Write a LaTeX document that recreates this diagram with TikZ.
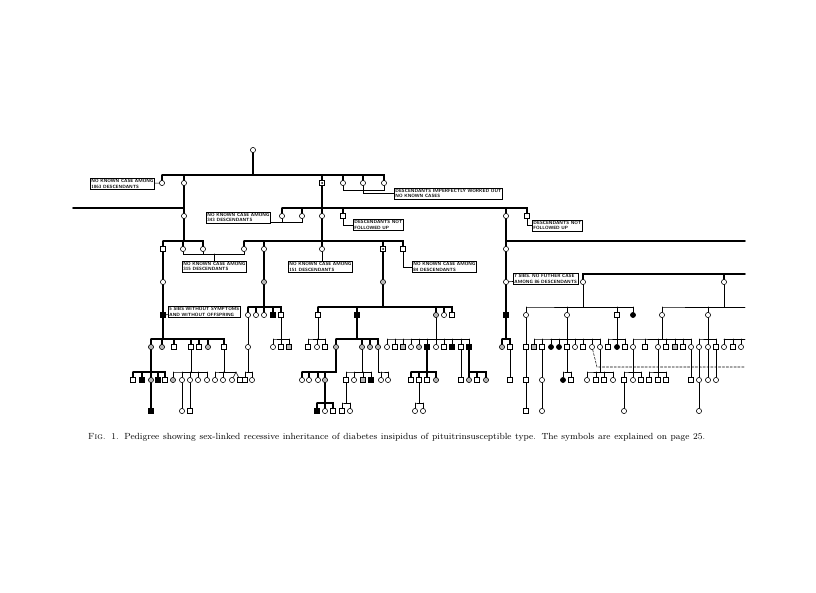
\documentclass[tikz,border=0pt]{standalone}
\usepackage{tikz}
\begin{document}
\begin{tikzpicture}[x=0.3mm,y=-0.3mm,line cap=round,
  fem/.style={circle,draw,line width=.5pt,inner sep=0pt,minimum size=1.55mm},
  mal/.style={rectangle,draw,line width=.5pt,inner sep=0pt,minimum size=1.4mm},
  femc/.style={fem,fill=gray!55},
  malc/.style={mal,fill=gray!55},
  fema/.style={fem,fill=black},
  mala/.style={mal,fill=black},
  maldot/.style={mal,path picture={\fill (path picture bounding box.center) circle (.3mm);}},
  thn/.style={line width=.5pt},
  thk/.style={line width=1.3pt},
  lbox/.style={draw,line width=.45pt,inner sep=1pt,align=left,anchor=west,
    font=\fontsize{3.9}{4.5}\selectfont\sffamily\bfseries}]
\path[use as bounding box,fill=white] (0,0) rectangle (816,593);

\node[fem] (r0-253) at (253,150) {};
\foreach \x/\sy in {162/fem,184/fem,322/maldot,343/fem,363/fem,384/fem}
  \node[\sy] (r1-\x) at (\x,183) {};
\foreach \x/\sy in {184/fem,282/fem,302/fem,322/fem,343/mal,506/fem,527/mal}
  \node[\sy] (r2-\x) at (\x,216) {};
\foreach \x/\sy in {163/mal,183/fem,203/fem,244/fem,264/fem,322/fem,383/maldot,403/mal,506/fem}
  \node[\sy] (r3-\x) at (\x,249) {};
\foreach \x/\sy in {163/fem,264/femc,383/femc,506/fem,583/fem,724/fem}
  \node[\sy] (r4-\x) at (\x,282) {};
\foreach \x/\sy in {163/mala,248/fem,256/fem,264/fem,273/mala,281/mal,318/mal,357/mala,436/femc,
    444/fem,452/mal,506/mala,526/fem,567/fem,617/mal,633/fema,662/fem,708/fem}
  \node[\sy] (r5-\x) at (\x,315) {};
\foreach \x/\sy in {151/femc,162/femc,174/mal,191/mal,199/mal,208/femc,224/mal,248/fem,273/fem,
    281/mal,289/malc,308/mal,317/fem,325/mal,336/femc,362/femc,370/femc,378/femc,387/fem,395/mal,
    403/malc,411/fem,419/femc,427/mala,436/fem,444/mal,452/mala,461/mal,469/mala,502/femc,510/mal,
    526/mal,534/malc,542/mal,551/fema,559/fema,567/mal,575/fem,583/mal,592/fem,600/fem,608/mal,
    617/fema,625/mal,633/fem,645/mal,658/fem,666/mal,675/malc,683/mal,691/fem,699/fem,708/fem,
    716/mal,724/fem,733/mal,741/fem}
  \node[\sy] (r6-\x) at (\x,347) {};
\foreach \x/\sy in {133/mal,142/mala,151/femc,158/mala,165/mal,173/femc,182/fem,190/fem,198/fem,
    207/fem,215/fem,223/fem,232/fem,240/mal,245/mal,252/fem,302/fem,309/fem,318/fem,325/femc,
    346/mal,354/fem,363/malc,371/mala,381/fem,388/fem,411/mal,419/mal,427/mal,436/femc,461/mal,
    469/femc,477/mal,486/femc,510/mal,526/mal,542/fem,563/fema,571/mal,587/fem,596/mal,604/mal,
    613/fem,624/mal,633/fem,641/mal,649/mal,658/mal,666/mal,691/mal,699/fem,708/fem,716/fem}
  \node[\sy] (r7-\x) at (\x,380) {};
\foreach \x/\sy in {151/mala,182/fem,190/mal,317/mala,325/fem,333/mal,342/mal,350/fem,415/fem,
    423/fem,526/mal,542/fem,624/fem,699/fem}
  \node[\sy] (r8-\x) at (\x,411) {};

\foreach \pa/\rw/\lo/\hi/\st/\ks in {
    r0-253/1/162/384/thk/{162,184,322,343,363,384},
    r2-184/3/163/203/thk/{163,183,203},
    r1-322/2/282/527/thk/{282,302,322,343,506,527},
    r2-322/3/244/403/thk/{244,264,322,383,403},
    r5-163/6/151/224/thk/{151,162,174,191,199,208,224},
    r4-264/5/248/281/thk/{248,256,264,273,281},
    r6-248/7/245/252/thn/{245,252},
    r5-281/6/273/289/thn/{273,281,289},
    r4-383/5/318/452/thk/{318,357,436,444,452},
    r5-318/6/308/325/thn/{308,317,325},
    r5-357/6/336/378/thk/{336,362,370,378},
    r5-436/6/387/469/thn/{387,395,403,411,419,427,436,444,452,461,469},
    r6-336/7/302/325/thk/{302,309,318,325},
    r7-325/8/317/333/thk/{317,325,333},
    r6-362/7/346/371/thn/{346,354,363,371},
    r7-346/8/342/350/thn/{342,350},
    r6-378/7/381/388/thn/{381,388},
    r6-427/7/411/436/thk/{411,419,427,436},
    r7-419/8/415/423/thn/{415,423},
    r6-469/7/469/486/thk/{469,477,486},
    r6-151/7/133/165/thk/{133,142,151,158,165},
    r6-191/7/173/207/thn/{173,182,190,198,207},
    r6-224/7/215/223/thn/{215,223},
    r5-506/6/502/510/thk/{502,510},
    r4-583/5/526/633/thn/{526,567,617,633},
    r4-724/5/662/708/thn/{662,708},
    r5-567/6/534/600/thn/{534,542,551,559,567,575,583,592,600},
    r5-617/6/608/625/thn/{608,617,625},
    r5-662/6/633/691/thn/{633,645,658,666,675,683,691},
    r5-708/6/699/716/thn/{699,708,716},
    r6-567/7/563/571/thn/{563,571},
    r6-600/7/587/613/thn/{587,596,604,613},
    r6-633/7/624/641/thn/{624,633,641},
    r6-658/7/649/666/thn/{649,658,666}}{
  \path (r\rw-\lo) ++(0,-8) coordinate (bar);
  \draw[\st] (\pa) |- (bar) -| (r\rw-\hi);
  \foreach \kk in \ks \draw[\st] (r\rw-\kk) -- (r\rw-\kk |- bar);
}

\foreach \u/\v in {r1-184/r2-184,r2-506/r3-506,r3-506/r4-506,r4-506/r5-506,r3-163/r4-163,
    r4-163/r5-163,r3-264/r4-264,r3-383/r4-383,r7-151/r8-151}
  \draw[thk] (\u) -- (\v);
\foreach \u/\v in {r5-248/r6-248,r7-182/r8-182,r7-190/r8-190,r6-461/r7-461,r6-510/r7-510,
    r5-526/r6-526,r6-526/r7-526,r7-526/r8-526,r6-542/r7-542,r7-542/r8-542,r7-624/r8-624,
    r6-691/r7-691,r6-699/r7-699,r6-708/r7-708,r6-716/r7-716,r7-699/r8-699}
  \draw[thn] (\u) -- (\v);

\coordinate (eA) at (73,208);
\coordinate (eB) at (745,241);
\coordinate (eC) at (745,274);
\coordinate (eD) at (745,307);
\coordinate (eE) at (745,339);
\coordinate (eF) at (745,367);
\coordinate (dd) at (597,367);
\coordinate (tw) at (236,372);
\draw[thk] (eA) -- (r1-184 |- eA);
\draw[thk] (r3-506 |- eB) -- (eB);
\draw[thk] (r4-583) |- (eC);
\draw[thk] (r4-724) -- (r4-724 |- eC);
\draw[thn] (r5-708 |- eD) -- (eD);
\foreach \kk in {724,733,741} \draw[thn] (r6-\kk) -- (r6-\kk |- eE);
\draw[thn] (r6-724 |- eE) -- (eE);
\draw[thn,dash pattern=on 2pt off 1.3pt] (r6-592) -- (dd) -- (eF);
\draw[thn] (r7-223 |- tw) -- (tw);
\draw[thn] (r7-232) -- (tw) -- (r7-240);

\node[lbox] (nb1) at (90,184) {NO KNOWN CASE AMONG\\1063 DESCENDANTS};
\node[lbox] (nb2) at (394,193.5) {DESCENDANTS IMPERFECTLY WORKED OUT\\NO KNOWN CASES};
\node[lbox] (nb3) at (206,217.5) {NO KNOWN CASE AMONG\\343 DESCENDANTS};
\node[lbox] (nb4) at (353,225) {DESCENDANTS NOT\\FOLLOWED UP};
\node[lbox] (nb5) at (532,225.5) {DESCENDANTS NOT\\FOLLOWED UP};
\node[lbox] (nb6) at (182,266.5) {NO KNOWN CASE AMONG\\315 DESCENDANTS};
\node[lbox] (nb7) at (288,267) {NO KNOWN CASE AMONG\\151 DESCENDANTS};
\node[lbox] (nb8) at (412,267) {NO KNOWN CASE AMONG\\84 DESCENDANTS};
\node[lbox] (nb9) at (168,312) {5 SIBS WITHOUT SYMPTOMS\\AND WITHOUT OFFSPRING};
\node[lbox] (nb10) at (513,279) {7 SIBS. NO FUTHER CASE\\AMONG 86 DESCENDANTS};

\draw[thn] (r1-162) -- (nb1);
\draw[thn] (r1-343) -- ++(0,7) -| (r1-384);
\draw[thn] (r1-363) |- (nb2);
\draw[thn] (r2-282) -- ++(0,6) coordinate (k3) -| (r2-302);
\draw[thn] (k3) -- (nb3.east |- k3);
\draw[thn] (r2-343) |- (nb4);
\draw[thn] (r2-527) |- (nb5);
\draw[thn] (r3-183) -- ++(0,5) coordinate (k6) -| (r3-244);
\draw[thn] (r3-203) -- (r3-203 |- k6);
\draw[thn] (nb6) -- (nb6 |- k6);
\draw[thn] (r3-322) -- (r3-322 |- nb7.north);
\draw[thn] (r3-403) |- (nb8);
\draw[thn] (r5-163) -- (nb9);
\draw[thn] (r4-506) -- (nb10);

\node[anchor=west,inner sep=0pt,font=\fontsize{7.6}{9}\selectfont] (cap) at (88,437)
  {\makebox[185.1mm][s]{{\scshape Fig.} 1. Pedigree showing sex-linked recessive inheritance of diabetes insipidus of pituitrinsusceptible type. The symbols are explained on page 25.}};
\end{tikzpicture}
\end{document}
